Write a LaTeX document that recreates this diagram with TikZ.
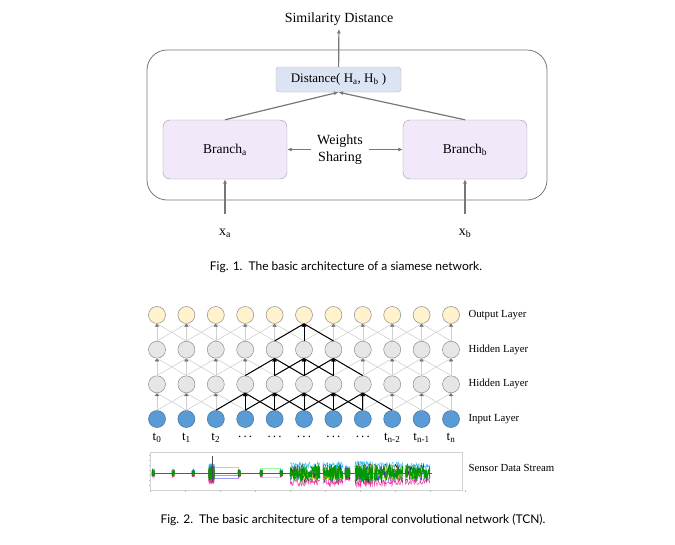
\documentclass[tikz,border=0pt]{standalone}
\usepackage{fontspec}
\setmainfont{Liberation Serif}
\newfontfamily\capfont{Lato}
\usetikzlibrary{arrows.meta}
\definecolor{linkgray}{HTML}{777777}
\definecolor{boxgray}{HTML}{9A9A9A}
\definecolor{branchfill}{HTML}{F1E8FA}
\definecolor{distfill}{HTML}{DCE4F3}
\definecolor{outfill}{HTML}{FFF2CC}
\definecolor{outdraw}{HTML}{8C8C8C}
\definecolor{hidfill}{HTML}{E6E6E6}
\definecolor{hiddraw}{HTML}{8C8C8C}
\definecolor{inputfill}{HTML}{5B9BD5}
\definecolor{inputdraw}{HTML}{41719C}
\definecolor{glinecol}{HTML}{D0D0D0}
\definecolor{tipgray}{HTML}{6E6E6E}

% one burst of the sensor stream: from, to, amplitude
\newcommand{\sburst}[3]{%
  \draw[magenta!80, line width=0.4pt] plot[domain=#1:#2, samples=50] (\x, {473+#3*(0.5+0.8*rnd)});
  \draw[cyan!80, line width=0.4pt] plot[domain=#1:#2, samples=50] (\x, {473-#3*(0.5+0.6*rnd)});
  \draw[black!80, line width=0.4pt] plot[domain=#1:#2, samples=40] (\x, {473+#3*1.0*rand});
  \draw[blue!80, line width=0.4pt] plot[domain=#1:#2, samples=40] (\x, {473+#3*0.8*rand});
  \draw[yellow!80!orange, line width=0.4pt] plot[domain=#1:#2, samples=30] (\x, {473+#3*0.7*rand});
  \draw[green!60!black, line width=0.6pt] plot[domain=#1:#2, samples=90] (\x, {473+#3*0.8*rand});
}

\begin{document}
\begin{tikzpicture}[x=1pt, y=-1pt,
  link/.style={draw=linkgray, line width=1.2pt, -{Latex[length=4.5pt,width=4pt]}},
  branch/.style={draw=boxgray, fill=branchfill, rounded corners=7pt, minimum width=124pt, minimum height=59pt, font=\fontsize{13.5}{16}\selectfont},
  distbox/.style={draw=boxgray!70, fill=distfill, rounded corners=3pt, minimum width=125pt, minimum height=25pt, font=\fontsize{13}{15}\selectfont},
  toptext/.style={font=\fontsize{14}{17}\selectfont},
  neuron/.style={circle, minimum size=17pt, inner sep=0pt, line width=0.5pt},
  glink/.style={draw=glinecol, line width=0.6pt},
  blink/.style={draw=black, line width=1pt},
  layertext/.style={anchor=west, font=\fontsize{10.8}{13}\selectfont},
  ttext/.style={font=\fontsize{13}{15}\selectfont},
  captext/.style={font=\capfont\fontsize{12}{14}\selectfont}]
\useasboundingbox (0,0) rectangle (675,544);

% siamese network
\draw[linkgray, line width=0.8pt, rounded corners=20pt] (147,50) rectangle (547,200);
\node[toptext] (sim) at (339,19) {Similarity Distance};
\node[distbox] (dist) at (338.5,79.5) {Distance( H\textsubscript{a}, H\textsubscript{b} )};
\node[branch] (ba) at (225,149.5) {Branch\textsubscript{a}};
\node[branch] (bb) at (465,149.5) {Branch\textsubscript{b}};
\node[toptext, align=center, inner sep=6pt] (ws) at (340,149.5) {Weights\\Sharing};
\node[toptext] (xa) at (225,233) {x\textsubscript{a}};
\node[toptext] (xb) at (465,233) {x\textsubscript{b}};
\draw[link] (dist) -- (sim);
\draw[link] (ba.north) -- (dist.south);
\draw[link] (bb.north) -- (dist.south);
\draw[link] (ws) -- (ba);
\draw[link] (ws) -- (bb);
\draw[link, shorten <=11pt] (xa) -- (ba);
\draw[link, shorten <=11pt] (xb) -- (bb);
\node[captext] (cap1) at (346,267) {Fig. 1.\enspace The basic architecture of a siamese network.};

% temporal convolutional network
\foreach \r/\fc/\dc in {0/inputfill/inputdraw, 1/hidfill/hiddraw, 2/hidfill/hiddraw, 3/outfill/outdraw}
  \foreach \c in {0,...,10}
    \node[neuron, fill=\fc, draw=\dc] (n-\r-\c) at ({157+29.4*\c},{419-34.67*\r}) {};
\foreach \r/\s in {1/0, 2/1, 3/2}
  \foreach \c in {0,...,10}
    \foreach \d in {-1,0,1} {
      \pgfmathtruncatemacro\k{\c+\d}
      \ifnum\k>-1 \ifnum\k<11
        \ifnum\d=0
          \draw[glink, -{Triangle[length=3pt,width=4.5pt,color=tipgray]}] (n-\s-\k.north) -- (n-\r-\c.south);
        \else
          \draw[glink] (n-\s-\k.north) -- (n-\r-\c.south);
        \fi
      \fi\fi
    }
\foreach \r/\s/\lo/\hi in {1/0/3/7, 2/1/4/6, 3/2/5/5}
  \foreach \c in {\lo,...,\hi}
    \foreach \d in {-1,0,1} {
      \pgfmathtruncatemacro\k{\c+\d}
      \ifnum\d=0
        \draw[blink, -{Triangle[length=3pt,width=5pt]}] (n-\s-\k.north) -- (n-\r-\c.south);
      \else
        \draw[blink] (n-\s-\k.north) -- (n-\r-\c.south);
      \fi
    }

\node[layertext] (lout) at (465,315) {Output Layer};
\node[layertext] (lh1) at (465,349.7) {Hidden Layer};
\node[layertext] (lh2) at (465,384.3) {Hidden Layer};
\node[layertext] (lin) at (465,419) {Input Layer};

\node[ttext] (t-0) at (157,438) {t\textsubscript{0}};
\node[ttext] (t-1) at (186.4,438) {t\textsubscript{1}};
\node[ttext] (t-2) at (215.8,438) {t\textsubscript{2}};
\foreach \c in {3,...,7}
  \node[ttext] (t-\c) at ({157+29.4*\c},438) {\raisebox{2pt}{.\,.\,.}};
\node[ttext] (t-8) at (392.2,438) {t\textsubscript{n-2}};
\node[ttext] (t-9) at (421.6,438) {t\textsubscript{n-1}};
\node[ttext] (t-10) at (451,438) {t\textsubscript{n}};

% sensor data stream
\draw[gray!35, line width=0.4pt] (150,452) rectangle (462,490);
\foreach \tx in {150,185,...,465}
  \draw[gray!50, line width=0.3pt] (\tx,490) -- (\tx,492);
\foreach \ty in {455,460,...,487}
  \draw[gray!50, line width=0.3pt] (150,\ty) -- (148.5,\ty);
\draw[red!30, line width=0.3pt] (212,467) rectangle (238,478);
\draw[blue!40, line width=0.3pt] (212,475) rectangle (238,478);
\draw[green!40, line width=0.3pt] (260,468) rectangle (280,477);
\draw[blue!70, line width=0.4pt] (152,473) -- (432,473);
\draw[green!60!black, line width=0.3pt] (152,473.6) -- (432,473.6);
\pgfmathsetseed{11}
\foreach \bx in {152,172,192,238,260,280}
  \sburst{\bx}{\bx+2.5}{3}
\sburst{209}{214}{8}
\draw[black!70, line width=0.5pt] (212,456) -- (212,482);
\sburst{290}{320}{10}
\sburst{323}{343}{10}
\sburst{345}{350}{6}
\sburst{355}{373}{11}
\sburst{374}{403}{10}
\sburst{405}{430}{9}
\node[layertext] (lsens) at (465,468) {Sensor Data Stream};

\node[captext] (cap2) at (353,520) {Fig. 2.\enspace The basic architecture of a temporal convolutional network (TCN).};
\end{tikzpicture}
\end{document}
